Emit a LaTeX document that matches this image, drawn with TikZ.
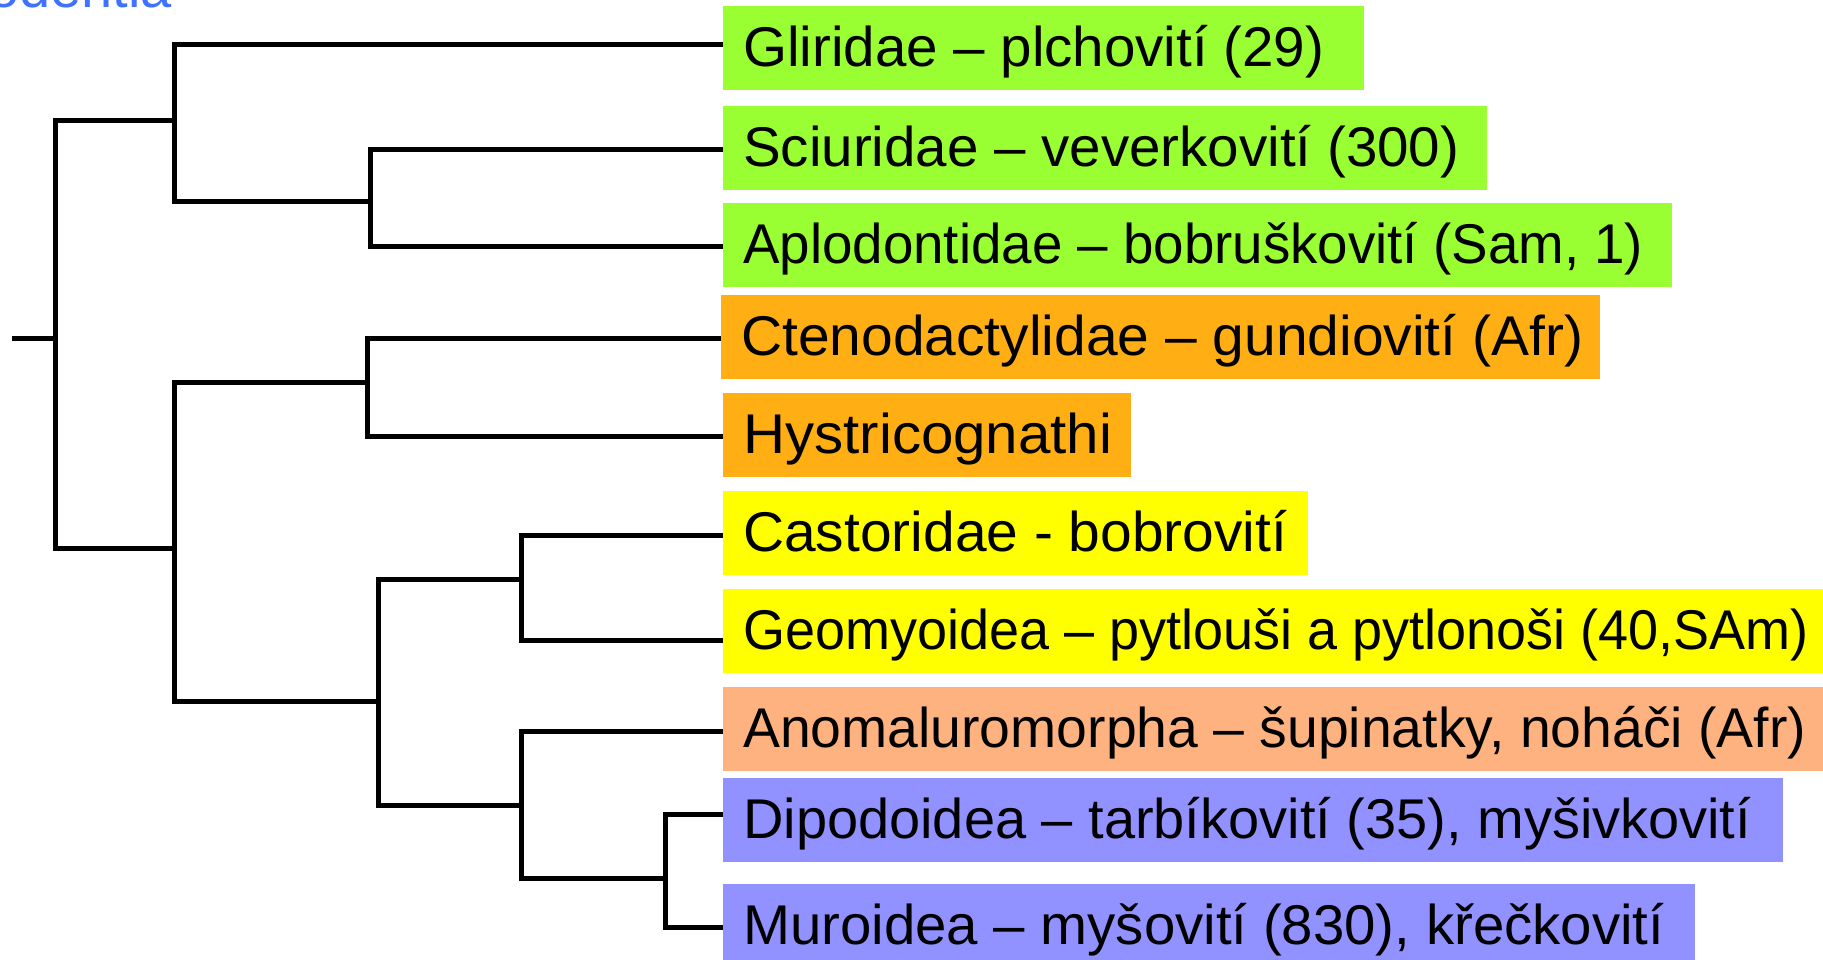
\documentclass[tikz,border=0pt]{standalone}
\usepackage{fontspec}
\usepackage{graphicx}
\setmainfont{Liberation Sans}
\definecolor{cgreen}{HTML}{99FF33}
\definecolor{corange}{HTML}{FFAE14}
\definecolor{cyellow}{HTML}{FFFF00}
\definecolor{csalmon}{HTML}{FDB27F}
\definecolor{cblue}{HTML}{9191FF}
\definecolor{rodblue}{HTML}{3F72FF}
\newcommand{\leaftext}[3]{\makebox[#1][l]{\resizebox{#2}{\height}{#3}}}
\tikzset{
  leaf/.style={anchor=north west, inner xsep=20pt, inner ysep=0pt,
    text height=60pt, text depth=24pt,
    font=\fontsize{56pt}{60pt}\selectfont},
  branch/.style={line width=5pt, draw=black}
}
\begin{document}
\begin{tikzpicture}[x=1pt,y=-1pt]
\useasboundingbox (0,0) rectangle (1823,959);
\clip (0,0) rectangle (1823,959);

\node[anchor=base east, inner sep=0pt, text=rodblue, font=\fontsize{56pt}{60pt}\selectfont] (title) at (172,7) {Rodentia};

\node[leaf, fill=cgreen] (glir) at (723,6) {\leaftext{601pt}{581pt}{Gliridae – plchovití (29)}};
\node[leaf, fill=cgreen] (sciur) at (723,106) {\leaftext{724pt}{716pt}{Sciuridae – veverkovití (300)}};
\node[leaf, fill=cgreen] (aplo) at (723,203) {\leaftext{909pt}{900pt}{Aplodontidae – bobruškovití (Sam, 1)}};
\node[leaf, fill=corange] (cteno) at (721,295) {\leaftext{839pt}{842pt}{Ctenodactylidae – gundiovití (Afr)}};
\node[leaf, fill=corange] (hyst) at (723,393) {\leaftext{368pt}{369pt}{Hystricognathi}};
\node[leaf, fill=cyellow] (cast) at (723,491) {\leaftext{545pt}{544pt}{Castoridae - bobrovití}};
\node[leaf, fill=cyellow] (geo) at (723,589) {\leaftext{1070pt}{1065pt}{Geomyoidea – pytlouši a pytlonoši (40,SAm)}};
\node[leaf, fill=csalmon] (anom) at (723,687) {\leaftext{1070pt}{1063pt}{Anomaluromorpha – šupinatky, noháči (Afr)}};
\node[leaf, fill=cblue] (dipo) at (723,778) {\leaftext{1020pt}{1008pt}{Dipodoidea – tarbíkovití (35), myšivkovití}};
\node[leaf, fill=cblue] (muro) at (723,884) {\leaftext{932pt}{921pt}{Muroidea – myšovití (830), křečkovití}};

\coordinate (r0) at (12,338);
\coordinate (root) at (55,338);
\coordinate (nA) at (174,120);
\coordinate (nSA) at (370,201);
\coordinate (nB) at (174,548);
\coordinate (nCH) at (367,382);
\coordinate (nC) at (378,701);
\coordinate (nCG) at (521,579);
\coordinate (nD) at (521,805);
\coordinate (nDM) at (665,878);

\draw[branch] (r0) -- (root);
\draw[branch] (root) |- (nA);
\draw[branch] (root) |- (nB);
\draw[branch] (nA) |- ([yshift=4pt]glir.west);
\draw[branch] (nA) |- (nSA);
\draw[branch] (nSA) |- ([yshift=-1pt]sciur.west);
\draw[branch] (nSA) |- ([yshift=-1pt]aplo.west);
\draw[branch] (nB) |- (nCH);
\draw[branch] (nB) |- (nC);
\draw[branch] (nCH) |- ([yshift=-1pt]cteno.west);
\draw[branch] (nCH) |- ([yshift=-1pt]hyst.west);
\draw[branch] (nC) |- (nCG);
\draw[branch] (nC) |- (nD);
\draw[branch] (nCG) |- ([yshift=-2pt]cast.west);
\draw[branch] (nCG) |- ([yshift=-9pt]geo.west);
\draw[branch] (nD) |- ([yshift=-2pt]anom.west);
\draw[branch] (nD) |- (nDM);
\draw[branch] (nDM) |- ([yshift=6pt]dipo.west);
\draw[branch] (nDM) |- ([yshift=-1pt]muro.west);
\end{tikzpicture}
\end{document}
